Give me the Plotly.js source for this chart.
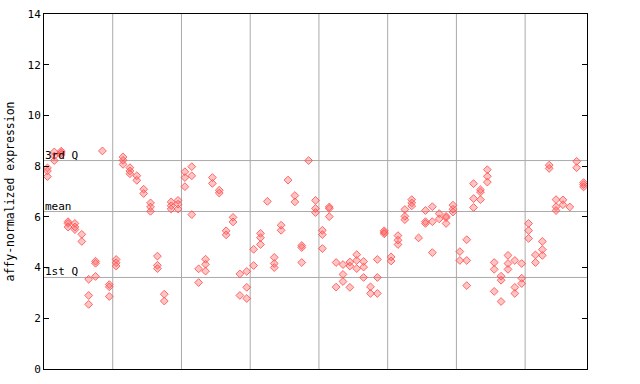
<!DOCTYPE html>
<html><head><meta charset="utf-8">
<script src="https://cdn.plot.ly/plotly-3.0.1.min.js"></script>
<style>html,body{margin:0;padding:0;background:#fff}</style>
</head><body><div id="chart" style="width:640px;height:384px"></div>
<script>
// replicate values per sample, 10 samples per group (last group 9)
const group1 = [[7.93,7.81,7.59],[8.56,8.40,8.22],[8.59,8.53,8.45],[5.81,5.74,5.60],[5.74,5.60,5.50],[5.31,5.03],[3.54,2.90,2.55],[4.25,4.17,3.65],[8.60],[3.33,3.24,2.86]];
const group2 = [[4.32,4.19,4.06],[8.36,8.23,8.07],[7.94,7.81,7.70],[7.62,7.44],[7.09,6.92],[6.55,6.39,6.22],[4.45,4.09,3.96],[2.95,2.68],[6.59,6.44,6.31],[6.65,6.50,6.31]];
const group3 = [[7.78,7.55,7.19],[7.98,7.62,6.09],[3.95,3.41],[4.33,4.13,3.86],[7.55,7.32],[7.05,6.94],[5.45,5.29],[5.98,5.80],[3.75,2.90],[3.85,3.22,2.78]];
const group4 = [[4.72,4.08],[5.35,5.18,4.91],[6.61],[4.40,4.16,4.00],[5.67,5.47],[7.45],[6.84,6.59],[4.87,4.79,4.20],[8.22],[6.65,6.33,6.17]];
const group5 = [[5.47,5.30,4.75],[6.39,6.33,6.01],[4.20,3.23],[4.12,3.73,3.45],[4.22,4.06,3.22],[4.51,4.28,3.96],[4.24,4.02,3.61],[3.24,2.98],[4.32,3.61,2.98],[5.45,5.39,5.33]];
const group6 = [[4.42,4.26],[5.26,5.08,4.91],[6.29,6.02,5.89],[6.68,6.55,6.43],[5.17],[6.25,5.81,5.74],[6.40,5.81,4.59],[6.13,5.92],[6.02,5.97,5.74],[6.46,6.30,6.19]];
const group7 = [[4.63,4.28],[5.10,4.28,3.29],[7.31,6.72,6.37],[7.07,6.98,6.68],[7.86,7.60,7.37],[4.20,3.93,3.06],[3.66,3.50,2.66],[4.48,4.16,3.93],[4.28,3.22,2.98],[4.16,3.58,3.37]];
const group8 = [[5.74,5.46,5.15],[4.50,4.20],[5.03,4.71,4.48],[8.04,7.91],[6.68,6.40,6.25],[6.67,6.48],[6.39],[8.19,7.94],[7.35,7.27,7.18]];
const quartile1 = 3.61, meanValue = 6.21, quartile3 = 8.22;
const refLabels = ['1st Q', 'mean', '3rd Q'];
const yTicks = [0, 2, 4, 6, 8, 10, 12, 14];
const groupSize = 10;

const groups = [group1, group2, group3, group4, group5, group6, group7, group8];
const xs = [], ys = [];
let idx = 0;
groups.forEach(g => g.forEach(sample => { sample.forEach(v => { xs.push(idx); ys.push(v); }); idx++; }));
const nSamples = idx;

const shapes = [];
for (let k = 1; k < groups.length; k++) {
  shapes.push({type:'line', xref:'x', yref:'paper', x0:k*groupSize-0.5, x1:k*groupSize-0.5, y0:0, y1:1, line:{color:'#aaaaaa', width:1}, layer:'below'});
}
const refVals = [quartile1, meanValue, quartile3];
refVals.forEach(v => shapes.push({type:'line', xref:'paper', yref:'y', x0:0, x1:1, y0:v, y1:v, line:{color:'#aaaaaa', width:1}, layer:'below'}));

const annotations = refVals.map((v, i) => ({
  xref:'paper', yref:'y', x:0, y:v, xanchor:'left', yanchor:'bottom', text:refLabels[i], showarrow:false,
  font:{family:'DejaVu Sans Mono, monospace', size:11, color:'#000'}, xshift:-1, yshift:-3
}));

const trace = {
  x: xs, y: ys, type:'scatter', mode:'markers', hoverinfo:'y',
  marker:{symbol:'diamond', size:6, color:'rgba(255,90,90,0.35)', line:{color:'rgba(255,80,80,0.85)', width:1}}
};

const layout = {
  width:640, height:384, margin:{l:44, r:53, t:13.5, b:15},
  paper_bgcolor:'#fff', plot_bgcolor:'#fff', showlegend:false,
  font:{family:'DejaVu Sans Mono, monospace', size:10, color:'#000'},
  xaxis:{range:[-0.5, nSamples-0.5], showline:true, mirror:true, linecolor:'#000', linewidth:1, showgrid:false, zeroline:false, showticklabels:false, ticks:''},
  yaxis:{range:[0,14], tickvals:yTicks, ticks:'inside', ticklen:5, tickcolor:'#000', showline:true, linecolor:'#000', linewidth:1, mirror:'ticks', showgrid:false, zeroline:false,
    tickfont:{family:'DejaVu Sans Mono, monospace', size:11},
    title:{text:'affy-normalized expression', font:{family:'DejaVu Sans Mono, monospace', size:11.5}, standoff:10}},
  shapes: shapes, annotations: annotations
};
Plotly.newPlot('chart', [trace], layout, {displayModeBar:false, staticPlot:true});
</script></body></html>
